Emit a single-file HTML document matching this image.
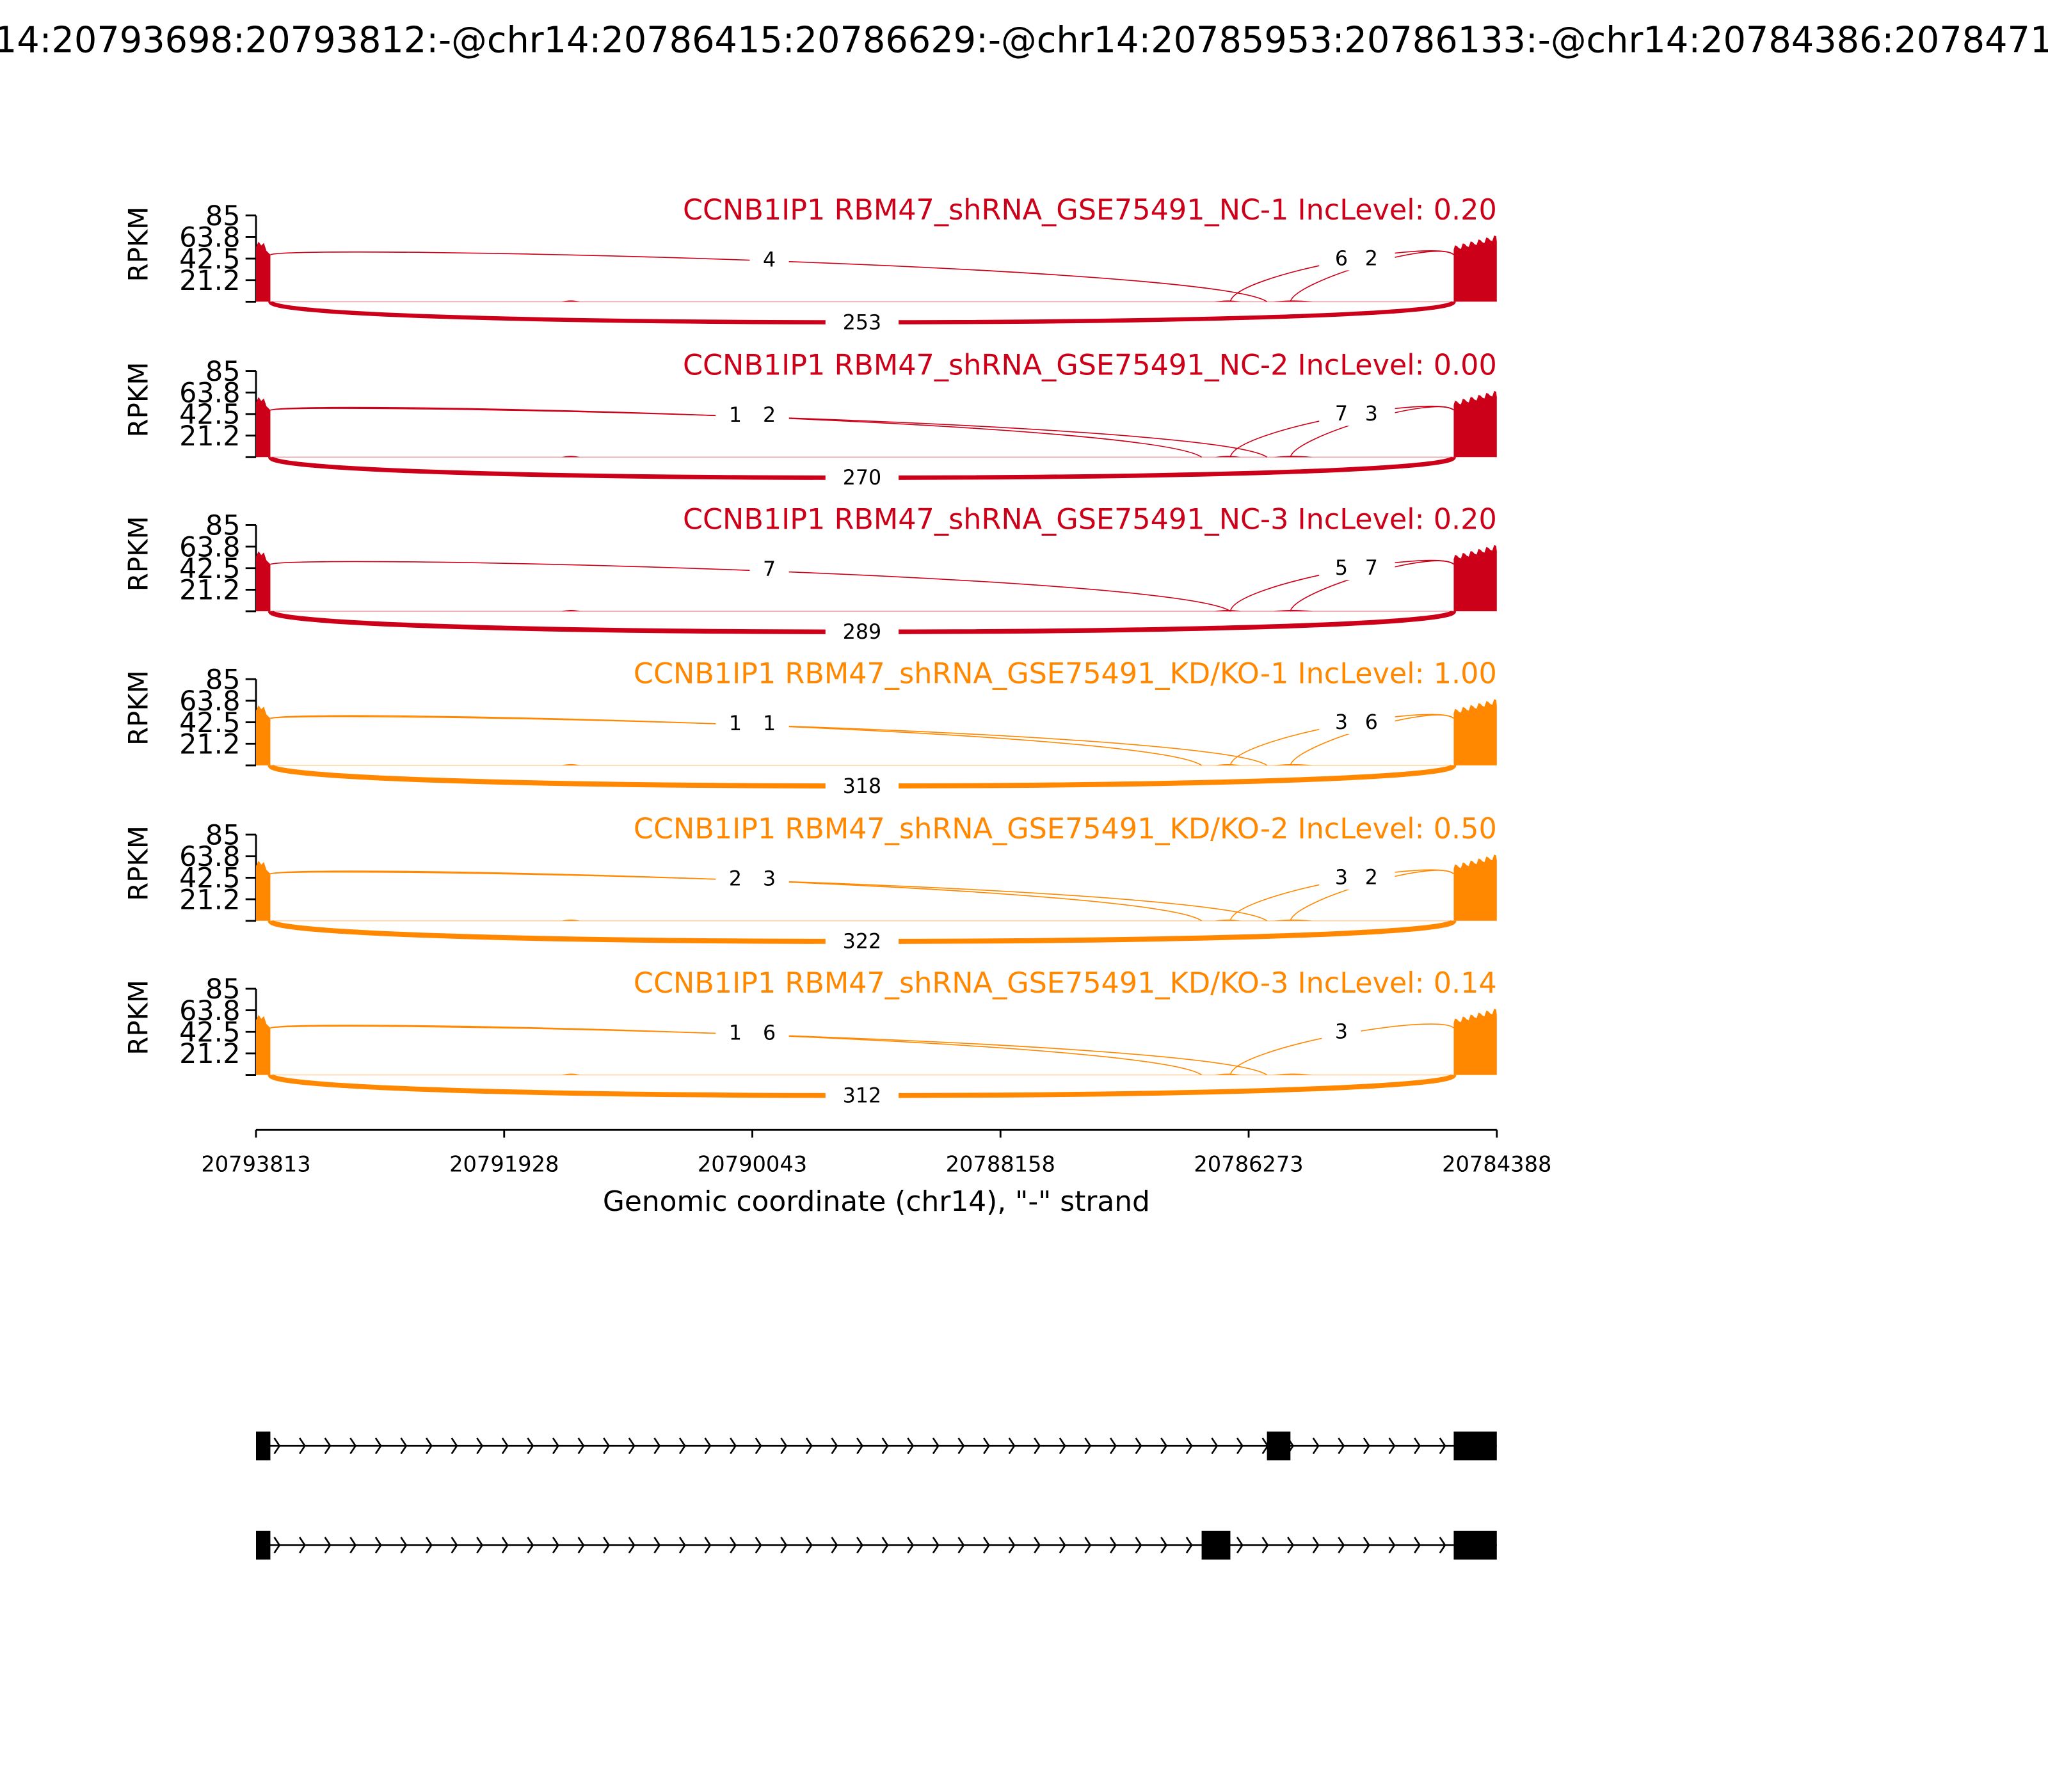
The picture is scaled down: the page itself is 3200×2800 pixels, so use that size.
<!DOCTYPE html>
<html><head><meta charset="utf-8"><style>
html,body{margin:0;padding:0;background:#fff;}
svg{display:block;}
text{font-family:"DejaVu Sans","Liberation Sans",sans-serif;}
</style></head><body>
<svg id="s" xmlns="http://www.w3.org/2000/svg" width="3200" height="2800" viewBox="0 0 1568 1372">
<rect width="1568" height="1372" fill="#fff"/>
<text x="780" y="40" font-size="27.3" text-anchor="middle">chr14:20793698:20793812:-@chr14:20786415:20786629:-@chr14:20785953:20786133:-@chr14:20784386:20784712:-</text>
<g id="panels"></g>
<g stroke="#000" stroke-width="1.4">
<line x1="196" y1="865" x2="1146" y2="865"/>
<line x1="196" y1="865" x2="196" y2="871"/><line x1="386" y1="865" x2="386" y2="871"/>
<line x1="576" y1="865" x2="576" y2="871"/><line x1="766" y1="865" x2="766" y2="871"/>
<line x1="956" y1="865" x2="956" y2="871"/><line x1="1146" y1="865" x2="1146" y2="871"/>
</g>
<g font-size="16.5" text-anchor="middle">
<text x="196" y="897">20793813</text><text x="386" y="897">20791928</text>
<text x="576" y="897">20790043</text><text x="766" y="897">20788158</text>
<text x="956" y="897">20786273</text><text x="1146" y="897">20784388</text>
</g>
<text x="671" y="927" font-size="21.5" text-anchor="middle">Genomic coordinate (chr14), "-" strand</text>
<g id="genes"></g>
</svg>
<script>
var P=[
 {n:"NC-1",lv:"0.20",c:"#CC0018",L:[["4",589,970]],R:[["6",1027,942],["2",1050,988]],b:"253",w:3.2},
 {n:"NC-2",lv:"0.00",c:"#CC0018",L:[["1",563,920],["2",589,970]],R:[["7",1027,942],["3",1050,988]],b:"270",w:3.4},
 {n:"NC-3",lv:"0.20",c:"#CC0018",L:[["7",589,942]],R:[["5",1027,942],["7",1050,988]],b:"289",w:3.6},
 {n:"KD/KO-1",lv:"1.00",c:"#FF8800",L:[["1",563,920],["1",589,970]],R:[["3",1027,942],["6",1050,988]],b:"318",w:3.9},
 {n:"KD/KO-2",lv:"0.50",c:"#FF8800",L:[["2",563,920],["3",589,970]],R:[["3",1027,942],["2",1050,988]],b:"322",w:3.9},
 {n:"KD/KO-3",lv:"0.14",c:"#FF8800",L:[["1",563,920],["6",589,970]],R:[["3",1027,942]],b:"312",w:3.8}
];
var tops=[165,284,402,520,639,757];
var h="";
P.forEach(function(p,i){
 var T=tops[i],B=T+66,c=p.c;
 h+='<line x1="196" y1="'+T+'" x2="196" y2="'+B+'" stroke="#000" stroke-width="1.4"/>';
 var tk=[[85,0],[63.8,16.5],[42.5,33],[21.2,49.5],["",66]];
 tk.forEach(function(t){h+='<line x1="188" y1="'+(T+t[1])+'" x2="196" y2="'+(T+t[1])+'" stroke="#000" stroke-width="1.4"/>';
  if(t[0]!=="")h+='<text x="184" y="'+(T+t[1]+7.5)+'" font-size="21" text-anchor="end">'+t[0]+'</text>';});
 h+='<text transform="translate(113,'+(T+22)+') rotate(-90)" font-size="20.5" text-anchor="middle">RPKM</text>';
 h+='<text x="1146" y="'+(T+3)+'" font-size="21.8" text-anchor="end" fill="'+c+'">CCNB1IP1 RBM47_shRNA_GSE75491_'+p.n+' IncLevel: '+p.lv+'</text>';
 h+='<line x1="207" y1="'+B+'" x2="1113" y2="'+B+'" stroke="'+c+'" stroke-opacity="0.35" stroke-width="0.8"/>';
 h+='<polygon fill="'+c+'" points="196,'+B+' 196,'+(T+24)+' 198,'+(T+20)+' 200,'+(T+23)+' 202,'+(T+21)+' 204,'+(T+27)+' 207,'+(T+30)+' 207,'+B+'"/>';
 var pts="1113,"+B+" 1113,"+(T+26)+" ";
 for(var x=1114;x<=1146;x+=1.5){var y=T+27-(x-1113)*0.25-((Math.round(x*7))%6);pts+=x+","+y.toFixed(1)+" ";}
 pts+="1146,"+(T+20)+" 1146,"+B;
 h+='<polygon fill="'+c+'" points="'+pts+'"/>';
 h+='<path d="M930 '+B+' Q940 '+(B-2)+' 950 '+B+'Z M975 '+B+' Q990 '+(B-2)+' 1005 '+B+'Z M430 '+B+' Q437 '+(B-2)+' 444 '+B+'Z" fill="'+c+'"/>';
 p.L.forEach(function(a,k){var e=a[2];
  h+='<path d="M207 '+(T+30)+' C230 '+(T+22+k*2)+' '+(e-40)+' '+(T+38)+' '+e+' '+B+'" fill="none" stroke="'+c+'" stroke-width="0.8"/>';});
 p.R.forEach(function(a,k){var s=a[2];
  h+='<path d="M'+s+' '+B+' C'+(s+3)+' '+(T+45+k*5)+' 1100 '+(T+18)+' 1113 '+(T+30)+'" fill="none" stroke="'+c+'" stroke-width="0.8"/>';});
 h+='<path d="M207 '+B+' C207 '+(B+21)+' 1113 '+(B+21)+' 1113 '+B+'" fill="none" stroke="'+c+'" stroke-width="'+p.w+'"/>';
 function lab(t,x,y){h+='<rect x="'+(x-15)+'" y="'+(y-12)+'" width="30" height="22" fill="#fff"/><text x="'+x+'" y="'+(y+6)+'" font-size="15.5" text-anchor="middle">'+t+'</text>';}
 if(p.L.length==2){h+='<rect x="548" y="'+(T+20)+'" width="56" height="24" fill="#fff"/>';}
 if(p.R.length==2){h+='<rect x="1010" y="'+(T+18)+'" width="58" height="24" fill="#fff"/>';}
 p.L.forEach(function(a){lab(a[0],a[1],T+33);});
 p.R.forEach(function(a){lab(a[0],a[1],T+32);});
 h+='<rect x="632" y="'+(T+70)+'" width="56" height="22" fill="#fff"/><text x="660" y="'+(T+87)+'" font-size="15.5" text-anchor="middle">'+p.b+'</text>';
});
document.getElementById("panels").innerHTML=h;
var g="";
function tr(y,ex){
 g+='<line x1="196" y1="'+y+'" x2="1146" y2="'+y+'" stroke="#000" stroke-width="1.3"/>';
 for(var x=210;x<1110;x+=19.4){g+='<polyline points="'+(x)+','+(y-6)+' '+(x+4)+','+y+' '+x+','+(y+6)+'" fill="none" stroke="#000" stroke-width="1.3"/>';}
 g+='<rect x="196" y="'+(y-11)+'" width="11" height="22" fill="#000"/>';
 g+='<rect x="'+ex[0]+'" y="'+(y-11)+'" width="'+(ex[1]-ex[0])+'" height="22" fill="#000"/>';
 g+='<rect x="1113" y="'+(y-11)+'" width="33" height="22" fill="#000"/>';
}
tr(1107,[970,988]);tr(1183,[920,942]);
document.getElementById("genes").innerHTML=g;
</script>
</body></html>
